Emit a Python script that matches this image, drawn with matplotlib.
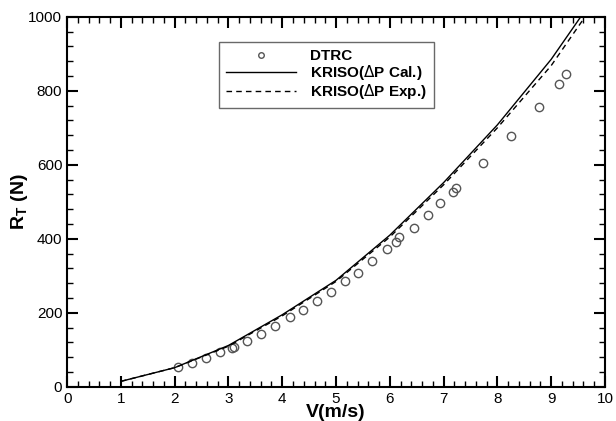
import matplotlib
matplotlib.use("Agg")
import matplotlib.pyplot as plt
from matplotlib.ticker import MultipleLocator

plt.rcParams['font.family'] = ['Liberation Sans', 'DejaVu Sans']

# DTRC experiment
dtrc_v = [2.07, 2.32, 2.59, 2.85, 3.06, 3.10, 3.35, 3.61, 3.87, 4.14, 4.39, 4.65,
          4.90, 5.16, 5.41, 5.67, 5.94, 6.11, 6.18, 6.45, 6.71, 6.94, 7.18, 7.23,
          7.73, 8.25, 8.77, 9.15, 9.28]
dtrc_rt = [53, 64, 78, 93, 105, 107, 124, 142, 165, 190, 209, 233,
           257, 286, 308, 341, 372, 391, 405, 430, 465, 496, 528, 538,
           606, 677, 757, 819, 845]

# KRISO calculations
cal_v = [1, 2, 3, 4, 5, 6, 7, 8, 9, 9.55]
cal_rt = [15, 52, 112, 195, 288, 410, 552, 708, 885, 1000]
exp_v = [1, 2, 3, 4, 5, 6, 7, 8, 9, 9.63]
exp_rt = [15, 52, 110, 192, 285, 405, 546, 700, 868, 1000]

fig = plt.figure(figsize=(6.16, 4.21), dpi=100)
ax = fig.add_axes([0.109, 0.081, 0.873, 0.879])

ax.plot(dtrc_v, dtrc_rt, 'o', mfc='none', mec='#555555', ms=6, mew=1.0, label='DTRC')
ax.plot(cal_v, cal_rt, '-', color='black', lw=1.0, label=r'KRISO($\Delta$P Cal.)')
ax.plot(exp_v, exp_rt, '--', color='black', lw=1.0, dashes=(4, 3), label=r'KRISO($\Delta$P Exp.)')

ax.set_xlim(0, 10)
ax.set_ylim(0, 1000)
ax.xaxis.set_major_locator(MultipleLocator(1))
ax.xaxis.set_minor_locator(MultipleLocator(0.2))
ax.yaxis.set_major_locator(MultipleLocator(200))
ax.yaxis.set_minor_locator(MultipleLocator(40))
ax.tick_params(which='both', direction='in', top=True, right=True, labelsize=11)
ax.tick_params(which='major', length=8, width=1.5)
ax.tick_params(which='minor', length=4, width=1)
for s in ax.spines.values():
    s.set_linewidth(1.5)

ax.set_xlabel('V(m/s)', fontsize=14, fontweight='bold', labelpad=-1)
ax.set_ylabel(r'R$_\mathregular{T}$ (N)', fontsize=14, fontweight='bold', labelpad=-1)

leg = ax.legend(loc='upper left', bbox_to_anchor=(0.2825, 0.932), frameon=True, fancybox=False,
                edgecolor='#444444', handlelength=4.6, handletextpad=0.9, numpoints=1,
                prop={'weight': 'bold', 'size': 11}, borderpad=0.45, labelspacing=0.0,
                borderaxespad=0)
leg.get_frame().set_linewidth(1.0)
leg.legend_handles[0].set_markersize(4)

plt.savefig('out.png', dpi=100)
